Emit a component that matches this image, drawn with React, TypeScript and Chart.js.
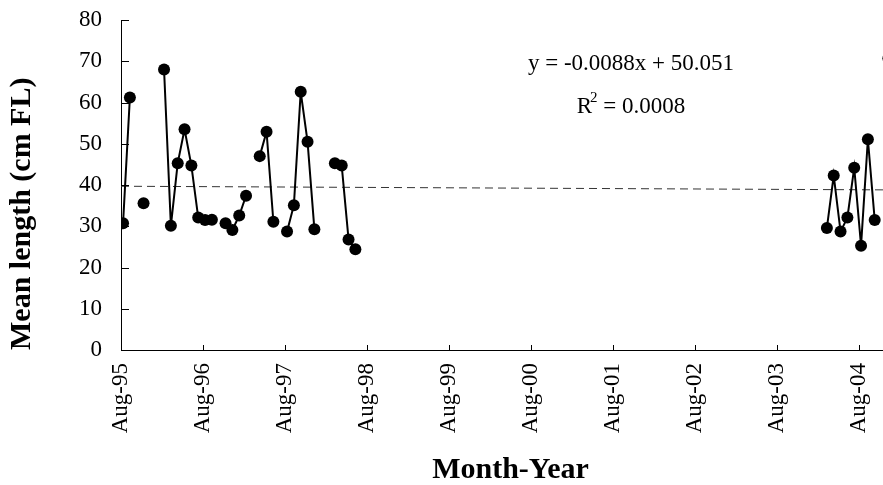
import React, { useEffect, useRef } from "react";
import { Chart, registerables } from "chart.js";

Chart.register(...registerables);

// Sample months (YYYY-MM) and mean fork lengths (cm FL)
const sampleMonths = [
  "1995-08", "1995-09", "1995-11", "1996-02", "1996-03", "1996-04", "1996-05",
  "1996-06", "1996-07", "1996-08", "1996-09", "1996-11", "1996-12", "1997-01",
  "1997-02", "1997-04", "1997-05", "1997-06", "1997-08", "1997-09", "1997-10",
  "1997-11", "1997-12", "1998-03", "1998-04", "1998-05", "1998-06",
  "2004-03", "2004-04", "2004-05", "2004-06", "2004-07", "2004-08", "2004-09",
  "2004-10", "2004-12",
];
const meanLengths = [
  30.7, 61.2, 35.6, 68.0, 30.1, 45.3, 53.5,
  44.7, 32.1, 31.5, 31.6, 30.7, 29.1, 32.6,
  37.4, 47.0, 52.9, 31.1, 28.7, 35.1, 62.6,
  50.5, 29.3, 45.3, 44.7, 26.8, 24.4,
  29.6, 42.3, 28.7, 32.1, 44.2, 25.3, 51.1,
  31.5, 70.7,
];

// x axis: months since Aug-95
const xTickMonths = [0, 12, 24, 36, 48, 60, 72, 84, 96, 108];
const xTickLabels = [
  "Aug-95", "Aug-96", "Aug-97", "Aug-98", "Aug-99",
  "Aug-00", "Aug-01", "Aug-02", "Aug-03", "Aug-04",
];
const X_MAX = 114;
const SAMPLE_OFFSET = 0.3; // samples fall part-way into the month

const yMin = 0;
const yMax = 80;
const yStep = 10;

// Linear trend (as fitted), values at axis start and end
const trendValues = [39.7, 38.8];
const equationLine1 = "y = -0.0088x + 50.051";
const equationR = "R";
const equationSup = "2";
const equationR2 = " = 0.0008";

const FONT = '"Liberation Serif", "Times New Roman", serif';

function monthIndex(s: string): number {
  const [y, m] = s.split("-").map(Number);
  return (y - 1995) * 12 + (m - 8);
}

function buildSeries() {
  const pts: { x: number; y: number | null }[] = [];
  let prev: number | null = null;
  sampleMonths.forEach((s, i) => {
    const idx = monthIndex(s);
    if (prev !== null && idx - prev > 1) {
      pts.push({ x: prev + 1 + SAMPLE_OFFSET, y: null });
    }
    pts.push({ x: idx + SAMPLE_OFFSET, y: meanLengths[i] });
    prev = idx;
  });
  return pts;
}

const innerTicksAndText = {
  id: "innerTicksAndText",
  afterDatasetsDraw(chart: any) {
    const { ctx, chartArea, scales } = chart;
    const xs = scales.x;
    const ys = scales.y;
    ctx.save();
    ctx.strokeStyle = "#000";
    ctx.lineWidth = 1;
    ctx.beginPath();
    for (let v = yMin + yStep; v <= yMax; v += yStep) {
      const py = Math.round(ys.getPixelForValue(v)) + 0.5;
      ctx.moveTo(chartArea.left, py);
      ctx.lineTo(chartArea.left + 8, py);
    }
    xTickMonths.forEach((m) => {
      if (m === 0) return;
      const px = Math.round(xs.getPixelForValue(m)) + 0.5;
      ctx.moveTo(px, chartArea.bottom);
      ctx.lineTo(px, chartArea.bottom - 5);
    });
    ctx.stroke();

    // equation text
    ctx.fillStyle = "#000";
    ctx.font = `23px ${FONT}`;
    ctx.textBaseline = "alphabetic";
    ctx.textAlign = "center";
    const cx = 631;
    ctx.fillText(equationLine1, cx, 70);
    ctx.textAlign = "left";
    const wR = ctx.measureText(equationR).width;
    const wRest = ctx.measureText(equationR2).width;
    ctx.font = `15px ${FONT}`;
    const wSup = ctx.measureText(equationSup).width;
    const total = wR + wSup + wRest - 2;
    const x0 = cx - total / 2;
    ctx.font = `23px ${FONT}`;
    ctx.fillText(equationR, x0, 113);
    ctx.font = `15px ${FONT}`;
    ctx.fillText(equationSup, x0 + wR - 2, 102);
    ctx.font = `23px ${FONT}`;
    ctx.fillText(equationR2, x0 + wR - 2 + wSup, 113);
    ctx.restore();
  },
};

export default function App() {
  const ref = useRef<HTMLCanvasElement>(null);

  useEffect(() => {
    if (!ref.current) return;
    const series = buildSeries();
    const chart = new Chart(ref.current, {
      type: "line",
      data: {
        datasets: [
          {
            label: "Mean length",
            data: series as any,
            borderColor: "#000",
            backgroundColor: "#000",
            borderWidth: 2,
            pointRadius: 6,
            pointBackgroundColor: "#000",
            pointBorderWidth: 0,
            spanGaps: false,
            tension: 0,
            order: 1,
          },
          {
            label: "Trend",
            data: [
              { x: 0, y: trendValues[0] },
              { x: X_MAX, y: trendValues[1] },
            ] as any,
            borderColor: "#333",
            borderWidth: 1,
            borderDash: [8, 5],
            pointRadius: 0,
            tension: 0,
            order: 2,
          },
        ],
      },
      options: {
        animation: false,
        responsive: false,
        devicePixelRatio: 1,
        layout: { padding: { left: 0, right: 1, top: 20, bottom: 0 } },
        plugins: {
          legend: { display: false },
          tooltip: { enabled: false },
        },
        scales: {
          x: {
            type: "linear",
            min: 0,
            max: X_MAX,
            afterBuildTicks(scale: any) {
              scale.ticks = xTickMonths.map((v) => ({ value: v }));
            },
            afterFit(scale: any) {
              scale.height = 135;
              scale.paddingLeft = 0;
              scale.paddingRight = 0;
            },
            ticks: {
              autoSkip: false,
              maxRotation: 90,
              minRotation: 90,
              padding: 13,
              color: "#000",
              font: { family: FONT, size: 23 },
              callback: (v: any) => {
                const i = xTickMonths.indexOf(Number(v));
                return i >= 0 ? xTickLabels[i] : "";
              },
            },
            grid: { display: false, drawTicks: false },
            border: { display: true, color: "#000", width: 1 },
            title: {
              display: true,
              text: "Month-Year",
              color: "#000",
              font: { family: FONT, size: 30, weight: "bold", lineHeight: 1 },
              padding: { top: 0, bottom: 0 },
            },
          },
          y: {
            min: yMin,
            max: yMax,
            afterFit(scale: any) {
              scale.width = 121;
              scale.paddingTop = 0;
              scale.paddingBottom = 0;
            },
            ticks: {
              stepSize: yStep,
              padding: 19,
              color: "#000",
              font: { family: FONT, size: 23 },
            },
            grid: { display: false, drawTicks: false },
            border: { display: true, color: "#000", width: 1 },
            title: {
              display: true,
              text: "Mean length (cm FL)",
              align: "start",
              color: "#000",
              font: { family: FONT, size: 30, weight: "bold", lineHeight: 1.2 },
              padding: { top: 4, bottom: 0 },
            },
          },
        },
      } as any,
      plugins: [innerTicksAndText],
    });
    return () => chart.destroy();
  }, []);

  return (
    <canvas
      ref={ref}
      width={906}
      height={485}
      style={{ position: "fixed", left: 0, top: 0, width: 906, height: 485 }}
    />
  );
}
